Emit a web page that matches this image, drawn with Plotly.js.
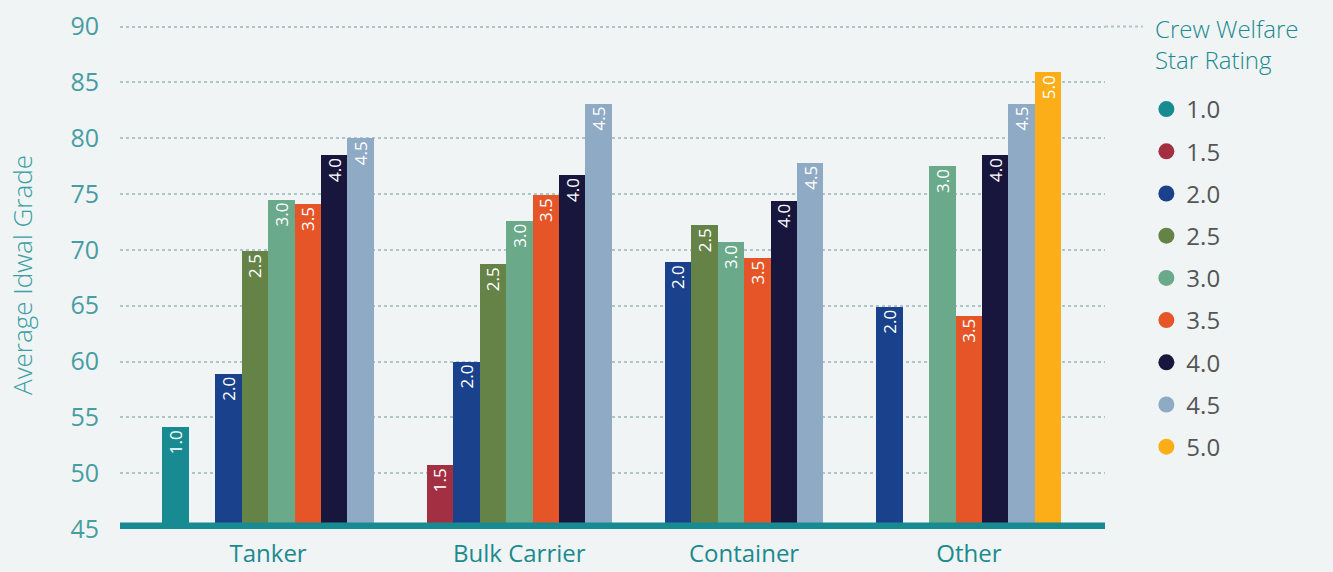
<!DOCTYPE html>
<html>
<head>
<meta charset="utf-8">
<script src="https://cdn.plot.ly/plotly-3.0.1.min.js"></script>
<style>
  html, body { margin: 0; padding: 0; background: #f0f4f5; }
  #chart { width: 1333px; height: 572px; }
</style>
</head>
<body>
<div id="chart"></div>
<script>
// ---- Data ----
const categories = ["Tanker", "Bulk Carrier", "Container", "Other"];
const ratings = ["1.0", "1.5", "2.0", "2.5", "3.0", "3.5", "4.0", "4.5", "5.0"];
const colors = ["#178b91", "#a32f42", "#1a418c", "#658347", "#6aa98a", "#e55527", "#18163d", "#8faac5", "#fbae17"];
// values per rating, ordered like categories (null = no bar)
const r10 = [54.1, null, null, null];
const r15 = [null, 50.7, null, null];
const r20 = [58.9, 60.0, 68.9, 64.9];
const r25 = [69.9, 68.7, 72.2, null];
const r30 = [74.5, 72.6, 70.7, 77.5];
const r35 = [74.1, 74.9, 69.3, 64.1];
const r40 = [78.5, 76.7, 74.4, 78.5];
const r45 = [80.0, 83.1, 77.8, 83.1];
const r50 = [null, null, null, 85.9];
const series = [r10, r15, r20, r25, r30, r35, r40, r45, r50];
const yTicks = [45, 50, 55, 60, 65, 70, 75, 80, 85, 90];
const legendTitle = "Crew Welfare<br>Star Rating";
const yTitle = "Average Idwal Grade";

const FONT = "'Open Sans', sans-serif";

// ---- Slot layout: each category spans from its lowest to highest present rating ----
const gapSlots = 2;
let cursor = 0;
const slotX = series.map(() => categories.map(() => null));
const catCenters = [];
categories.forEach((c, ci) => {
  const present = series.map((s, ri) => s[ci] != null ? ri : -1).filter(i => i >= 0);
  const lo = Math.min(...present), hi = Math.max(...present);
  const n = hi - lo + 1;
  present.forEach(ri => { slotX[ri][ci] = cursor + (ri - lo) + 0.5; });
  catCenters.push(cursor + n / 2);
  cursor += n + gapSlots;
});
const totalSlots = cursor - gapSlots;

const traces = [];
series.forEach((s, ri) => {
  const xs = [], ys = [];
  s.forEach((v, ci) => { if (v != null) { xs.push(slotX[ri][ci]); ys.push(v); } });
  traces.push({
    type: "bar",
    x: xs, y: ys,
    width: 1,
    marker: { color: colors[ri] },
    text: xs.map(() => ratings[ri]),
    textposition: "inside",
    insidetextanchor: "end",
    textangle: -90,
    constraintext: "none",
    insidetextfont: { family: FONT, size: 17, color: "#ffffff" },
    showlegend: false,
    hoverinfo: "skip"
  });
});
// legend entries (circles)
ratings.forEach((r, ri) => {
  traces.push({
    type: "scatter", mode: "markers",
    x: [null], y: [null],
    name: r,
    legendgroup: "g" + ri,
    marker: { color: colors[ri], size: 16, symbol: "circle" },
    showlegend: true,
    hoverinfo: "skip"
  });
});

const layout = {
  width: 1333, height: 572,
  paper_bgcolor: "#f0f4f5",
  plot_bgcolor: "#f0f4f5",
  margin: { l: 120, r: 228, t: 21, b: 43, autoexpand: false },
  font: { family: FONT },
  barmode: "overlay",
  bargap: 0,
  hovermode: false,
  xaxis: {
    range: [-1.6, totalSlots + 1.65],
    tickvals: catCenters,
    ticktext: categories,
    showgrid: false, zeroline: false, showline: false,
    ticks: "",
    ticklabelstandoff: 8,
    tickfont: { family: FONT, size: 24, weight: 500, color: "#1b8a8f" },
    fixedrange: true
  },
  yaxis: {
    range: [45, 90.5],
    tickvals: yTicks,
    showgrid: true,
    gridcolor: "#afc5ca",
    gridwidth: 2,
    griddash: "dot",
    zeroline: false,
    showline: false,
    ticks: "",
    ticklabelstandoff: 20,
    tickfont: { family: FONT, size: 25, color: "#479da2" },
    title: { text: yTitle, font: { family: FONT, size: 26, weight: 300, color: "#3a9ea3" }, standoff: 30 },
    fixedrange: true
  },
  legend: {
    x: 1.042, xanchor: "left",
    yref: "container",
    y: 1 - 87 / 572, yanchor: "top",
    maxheight: 572,
    bgcolor: "rgba(0,0,0,0)",
    font: { family: FONT, size: 24, color: "#555555" },
    tracegroupgap: 8,
    itemwidth: 30
  },
  annotations: [
    { text: legendTitle, xref: "paper", yref: "paper", x: 1 + 48 / 985, y: 1 + 11 / 508,
      xanchor: "left", yanchor: "top", align: "left", showarrow: false,
      font: { family: FONT, size: 24, weight: 300, color: "#1b8a8f" } }
  ],
  shapes: [
    { type: "line", xref: "paper", yref: "y", x0: 0, x1: 1, y0: 45.26, y1: 45.26,
      line: { color: "#178b91", width: 7 }, layer: "above" },
    { type: "line", xref: "paper", yref: "y", x0: 1, x1: 1.0386, y0: 90, y1: 90,
      line: { color: "#afc5ca", width: 2, dash: "dot" }, layer: "below" }
  ]
};

Plotly.newPlot("chart", traces, layout, { displayModeBar: false, staticPlot: true });
</script>
</body>
</html>
